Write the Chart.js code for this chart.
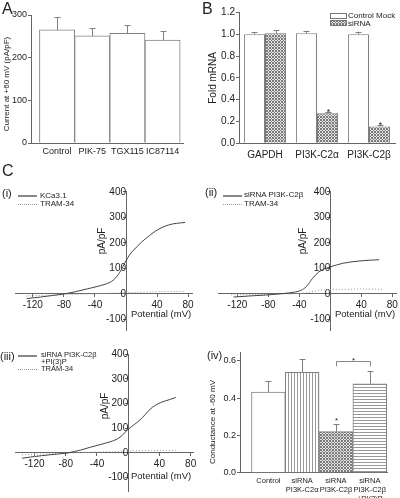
<!DOCTYPE html>
<html lang="en">
<head>
<meta charset="UTF-8" />
<title>KCa3.1 / PI3K-C2beta figure</title>
<script src="https://cdn.jsdelivr.net/npm/chart.js"></script>
<style>
  body { margin: 0; background: #fff; }
  #wrap { position: relative; width: 400px; height: 498px; overflow: hidden;
          font-family: "Liberation Sans", Arial, sans-serif; color: #222; }
  #wrap canvas { position: absolute; left: 0; top: 0; }
  .lbl { position: absolute; line-height: 1; white-space: nowrap; }
  .ln { position: absolute; height: 0; }
  .box { position: absolute; box-sizing: border-box; border: 1px solid #777; }
</style>
</head>
<body>
<div id="wrap">
  <canvas id="chartA" width="400" height="498"></canvas>
  <canvas id="chartB" width="400" height="498"></canvas>
  <canvas id="chartC1" width="400" height="498"></canvas>
  <canvas id="chartC2" width="400" height="498"></canvas>
  <canvas id="chartC3" width="400" height="498"></canvas>
  <canvas id="chartC4" width="400" height="498"></canvas>
</div>
<script>
  // ---- A: current at +60 mV
  const aLabels = ["Control", "PIK-75", "TGX115", "IC87114"];
  const aCurrent = [265, 251, 257, 241];
  const aErr = [30, 18, 20, 21];
  const aTicks = [0, 100, 200, 300];

  // ---- B: fold mRNA
  const bLabels = ["GAPDH", "PI3K-C2α", "PI3K-C2β"];
  const bMock = [1.0, 1.01, 1.0];
  const bMockErr = [0.018, 0.024, 0.02];
  const bSirna = [1.01, 0.275, 0.155];
  const bSirnaErr = [0.025, 0.012, 0.01];
  const bStars = [false, true, true];
  const bTicks = [0, 0.2, 0.4, 0.6, 0.8, 1.0, 1.2];

  // ---- C: I-V ramps (mV, pA/pF)
  const ivTicksX = [-120, -80, -40, 40, 80];
  const ivTicksY = [-100, 0, 100, 200, 300, 400];

  const c1V = [-128, -110, -95, -80, -65, -50, -35, -22, -15, -8, 0, 5, 10, 20, 30, 40, 50, 60, 70, 76];
  const c1Kca = [-18, -12, -6, 0, 9, 20, 31, 44, 58, 85, 130, 155, 172, 203, 228, 250, 265, 274, 278, 280];
  const c1TramV = [-128, -100, -80, -60, -40, -20, 0, 20, 40, 60, 76];
  const c1Tram = [-8, -5, -3, -1, 1, 3, 5, 7, 9, 10, 10];

  const c2V = [-125, -100, -82, -60, -45, -38, -31, -23, -15, -8, 0, 16, 37, 50, 63];
  const c2Si = [-12, -7, -4, 2, 8, 14, 29, 61, 86, 98, 106, 120, 129, 132, 134];
  const c2TramV = [-128, -90, -60, -40, -30, -22, -12, 0, 20, 40, 55, 68];
  const c2Tram = [-3, -2, 0, 2, 5, 10, 15, 18, 18, 20, 19, 18];

  const c3V = [-136, -120, -100, -77, -60, -48, -35, -23, -14, -7, 0, 8, 15, 22, 28, 35, 41, 48, 54, 61];
  const c3Si = [-22, -15, -8, 0, 12, 23, 34, 45, 56, 73, 96, 115, 133, 156, 177, 193, 203, 211, 217, 225];
  const c3TramV = [-136, -100, -77, -50, -20, 0, 30, 61];
  const c3Tram = [-8, -4, -1, 2, 5, 8, 9, 10];

  // ---- C(iv): conductance at -60 mV
  const dLabels = ["Control", ["siRNA", "PI3K-C2α"], ["siRNA", "PI3K-C2β"], ["siRNA", "PI3K-C2β", "+PI(3)P"]];
  const dCond = [0.432, 0.538, 0.22, 0.477];
  const dErr = [0.061, 0.073, 0.042, 0.07];
  const dStars = [false, false, true, false];
  const dBracket = [2, 3];
  const dTicks = [0, 0.2, 0.4, 0.6];

  Chart.defaults.font.family = '"Liberation Sans", Arial, sans-serif';
  Chart.defaults.color = "#222";
  Chart.defaults.animation = false;
  Chart.defaults.plugins.legend.display = false;
  Chart.defaults.plugins.tooltip.enabled = false;

  const axisGray = "#666";

  function tile(kind) {
    const c = document.createElement("canvas");
    const g = c.getContext("2d");
    if (kind === "cross") {
      c.width = c.height = 3;
      g.fillStyle = "#e4e4e4";
      g.fillRect(0, 0, 3, 3);
      g.fillStyle = "#7a7a7a";
      [[0, 0], [1, 1], [2, 2], [2, 0], [0, 2]].forEach((p) => g.fillRect(p[0], p[1], 1, 1));
    } else if (kind === "vert") {
      c.width = 3; c.height = 1;
      g.fillStyle = "#fff"; g.fillRect(0, 0, 3, 1);
      g.fillStyle = "#999"; g.fillRect(0, 0, 1, 1);
    } else {
      c.width = 1; c.height = 3;
      g.fillStyle = "#fff"; g.fillRect(0, 0, 1, 3);
      g.fillStyle = "#999"; g.fillRect(0, 0, 1, 1);
    }
    return c;
  }
  const pctx = document.createElement("canvas").getContext("2d");
  const crossTile = tile("cross");
  const crossFill = pctx.createPattern(crossTile, "repeat");
  const vertFill = pctx.createPattern(tile("vert"), "repeat");
  const horizFill = pctx.createPattern(tile("horiz"), "repeat");

  // error bars (+ asterisks, bracket) drawn through the chart scales
  const errorBars = {
    id: "errorBars",
    afterDatasetsDraw(chart, args, opts) {
      const ctx = chart.ctx;
      const ys = chart.scales.y;
      ctx.save();
      ctx.strokeStyle = opts.color || "#808080";
      ctx.fillStyle = "#222";
      ctx.lineWidth = 1;
      chart.data.datasets.forEach((ds, i) => {
        if (!ds.errors) return;
        const meta = chart.getDatasetMeta(i);
        meta.data.forEach((bar, j) => {
          const v = meta.controller.getParsed(j).y;
          const top = Math.round(ys.getPixelForValue(v + ds.errors[j])) + 0.5;
          const x = Math.round(bar.x) + 0.5;
          ctx.beginPath();
          ctx.moveTo(x, bar.y);
          ctx.lineTo(x, top);
          ctx.moveTo(x - 3, top);
          ctx.lineTo(x + 3, top);
          ctx.stroke();
          if (ds.stars && ds.stars[j]) {
            ctx.font = (opts.starSize || 9) + 'px "Liberation Sans", Arial';
            ctx.textAlign = "center";
            ctx.fillText("*", x, top + (opts.starDrop || 1));
          }
        });
      });
      const br = opts.bracket;
      if (br) {
        const meta = chart.getDatasetMeta(0);
        const x1 = Math.round(meta.data[br.from].x) + 0.5;
        const x2 = Math.round(meta.data[br.to].x) + 0.5;
        const yl = Math.round(ys.getPixelForValue(br.level)) + 0.5;
        const yd = ys.getPixelForValue(br.level - br.drop);
        ctx.strokeStyle = "#888";
        ctx.beginPath();
        ctx.moveTo(x1, yd);
        ctx.lineTo(x1, yl);
        ctx.lineTo(x2, yl);
        ctx.lineTo(x2, yd);
        ctx.stroke();
        ctx.font = '8px "Liberation Sans", Arial';
        ctx.textAlign = "center";
        ctx.fillText("*", (x1 + x2) / 2, yl + 1);
      }
      ctx.restore();
    },
  };

  const setTicks = (arr) => (s) => { s.ticks = arr.map((v) => ({ value: v })); };

  // ---------- A
  new Chart(document.getElementById("chartA"), {
    type: "bar",
    data: {
      datasets: [{
        data: aCurrent.map((v, i) => ({ x: i, y: v })),
        errors: aErr,
        backgroundColor: "#fff",
        borderColor: "#808080",
        borderWidth: 1,
        barPercentage: 1,
        categoryPercentage: 1,
      }],
    },
    options: {
      responsive: false,
      layout: { padding: { left: 0, top: 15, right: 217, bottom: 498 - 143 - 22 } },
      scales: {
        x: {
          type: "linear", min: -0.74, max: 3.58, offset: false,
          grid: { display: false, drawTicks: false },
          border: { color: axisGray },
          afterBuildTicks: setTicks(aLabels.map((_, i) => i)),
          ticks: { autoSkip: false, maxRotation: 0, padding: 3, font: { size: 9 }, callback: (v) => aLabels[v] },
          afterFit: (s) => { s.height = 22; },
        },
        y: {
          min: 0, max: 300,
          afterBuildTicks: setTicks(aTicks),
          grid: { drawOnChartArea: false, tickLength: 3, color: axisGray },
          border: { color: axisGray },
          ticks: { padding: 1, font: { size: 9 } },
          afterFit: (s) => { s.width = 31; },
        },
      },
      plugins: { errorBars: {} },
    },
    plugins: [errorBars],
  });

  // ---------- B
  new Chart(document.getElementById("chartB"), {
    type: "bar",
    data: {
      labels: bLabels,
      datasets: [
        { label: "Control Mock", data: bMock, errors: bMockErr, backgroundColor: "#fff", borderColor: "#808080", borderWidth: 1 },
        { label: "siRNA", data: bSirna, errors: bSirnaErr, stars: bStars, backgroundColor: crossFill, borderColor: "#777", borderWidth: 1 },
      ],
    },
    options: {
      responsive: false,
      datasets: { bar: { barPercentage: 1, categoryPercentage: 0.81 } },
      layout: { padding: { left: 200, top: 12.5, right: 5, bottom: 498 - 143.3 - 24 } },
      scales: {
        x: {
          grid: { display: false, drawTicks: false },
          border: { color: axisGray },
          ticks: { padding: 6, font: { size: 10 } },
          afterFit: (s) => { s.height = 24; },
        },
        y: {
          min: 0, max: 1.2,
          afterBuildTicks: setTicks(bTicks),
          grid: { drawOnChartArea: false, tickLength: 3, color: axisGray },
          border: { color: axisGray },
          ticks: { padding: 1, font: { size: 10 }, callback: (v) => v.toFixed(1) },
          title: { display: true, text: "Fold mRNA", font: { size: 10 }, padding: { top: 7, bottom: 0 } },
          afterFit: (s) => { s.width = 39; },
        },
      },
      plugins: { errorBars: { starSize: 9, starDrop: 2 } },
    },
    plugins: [errorBars],
  });

  // ---------- C (i)-(iii) I-V curves
  function ivChart(id, pad, xMin, xMax, yMin, yMax, sets) {
    return new Chart(document.getElementById(id), {
      type: "line",
      data: {
        datasets: sets.map((s) => ({
          data: s.v.map((v, i) => ({ x: v, y: s.i[i] })),
          borderColor: s.dotted ? "#999" : "#444",
          borderWidth: 1,
          borderDash: s.dotted ? [1, 2] : [],
          pointRadius: 0,
          cubicInterpolationMode: "monotone",
        })),
      },
      options: {
        responsive: false,
        layout: { padding: pad },
        scales: {
          x: {
            type: "linear", position: { y: 0 }, min: xMin, max: xMax,
            afterBuildTicks: setTicks(ivTicksX),
            grid: { drawOnChartArea: false, tickLength: 3, color: axisGray },
            border: { color: axisGray },
            ticks: { autoSkip: false, maxRotation: 0, padding: 2, font: { size: 10 } },
          },
          y: {
            type: "linear", position: { x: 0 }, min: yMin, max: yMax,
            afterBuildTicks: setTicks(ivTicksY),
            grid: { drawOnChartArea: false, tickLength: 3, color: axisGray },
            border: { color: axisGray },
            ticks: { padding: 1, font: { size: 10 } },
          },
        },
      },
    });
  }

  ivChart("chartC1", { left: 15, top: 191, right: 208, bottom: 168 }, -143, 85, -141, 403, [
    { v: c1V, i: c1Kca }, { v: c1TramV, i: c1Tram, dotted: true },
  ]);
  ivChart("chartC2", { left: 218, top: 191, right: 3, bottom: 168 }, -145, 85, -141, 403, [
    { v: c2V, i: c2Si }, { v: c2TramV, i: c2Tram, dotted: true },
  ]);
  ivChart("chartC3", { left: 15, top: 354, right: 207, bottom: 0 }, -145, 83, -155, 401, [
    { v: c3V, i: c3Si }, { v: c3TramV, i: c3Tram, dotted: true },
  ]);

  // ---------- C (iv)
  new Chart(document.getElementById("chartC4"), {
    type: "bar",
    data: {
      datasets: [{
        data: dCond.map((v, i) => ({ x: i, y: v })),
        errors: dErr,
        stars: dStars,
        backgroundColor: ["#fff", vertFill, crossFill, horizFill],
        borderColor: "#808080",
        borderWidth: 1,
        barPercentage: 1,
        categoryPercentage: 1,
      }],
    },
    options: {
      responsive: false,
      layout: { padding: { left: 200, top: 352, right: 13, bottom: 0 } },
      scales: {
        x: {
          type: "linear", min: -0.84, max: 3.51, offset: false,
          grid: { display: false, drawTicks: false },
          border: { color: axisGray },
          afterBuildTicks: setTicks(dLabels.map((_, i) => i)),
          ticks: { autoSkip: false, maxRotation: 0, padding: 4, font: { size: 7.5, lineHeight: 1.2 }, callback: (v) => dLabels[v] },
          afterFit: (s) => { s.height = 25.3; },
        },
        y: {
          min: 0, max: 0.647,
          afterBuildTicks: setTicks(dTicks),
          grid: { drawOnChartArea: false, tickLength: 3, color: axisGray },
          border: { color: axisGray },
          ticks: { padding: 1, font: { size: 9 }, callback: (v) => v.toFixed(1) },
          afterFit: (s) => { s.width = 40; },
        },
      },
      plugins: { errorBars: { starSize: 8, starDrop: -2, bracket: { from: dBracket[0], to: dBracket[1], level: 0.597, drop: 0.027 } } },
    },
    plugins: [errorBars],
  });

  // ---------- overlay text, legends
  const wrap = document.getElementById("wrap");
  function label(text, x, y, size, rotated) {
    const d = document.createElement("div");
    d.className = "lbl";
    d.textContent = text;
    d.style.fontSize = size + "px";
    d.style.left = x + "px";
    d.style.top = y + "px";
    d.style.transform = rotated ? "translate(-50%,-50%) rotate(-90deg)" : "translateY(-50%)";
    wrap.appendChild(d);
  }
  function line(x1, x2, y, style) {
    const d = document.createElement("div");
    d.className = "ln";
    d.style.left = x1 + "px";
    d.style.width = x2 - x1 + "px";
    d.style.top = y + "px";
    d.style.borderTop = style;
    wrap.appendChild(d);
  }
  function box(x, y, w, h, bg) {
    const d = document.createElement("div");
    d.className = "box";
    Object.assign(d.style, { left: x + "px", top: y + "px", width: w + "px", height: h + "px", background: bg });
    wrap.appendChild(d);
  }

  label("A", 2, 9, 16);
  label("B", 202, 9, 16);
  label("C", 2, 171, 16);
  label("(i)", 2, 193, 11);
  label("(ii)", 205, 192, 11);
  label("(iii)", 0, 356, 11);
  label("(iv)", 207, 355, 11);

  label("Current at +60 mV (pA/pF)", 7, 84, 8, true);
  label("Conductance at -60 mV", 213, 422, 8, true);
  label("pA/pF", 102, 241, 10, true);
  label("pA/pF", 302.5, 241, 10, true);
  label("pA/pF", 105, 406, 10, true);
  label("Potential (mV)", 131, 314, 9.5);
  label("Potential (mV)", 335, 314, 9.5);
  label("Potential (mV)", 131, 476, 9.5);

  // legend B
  box(330, 12.5, 17, 6, "#fff");
  box(330, 20, 17, 6, "url(" + crossTile.toDataURL() + ")");
  label("Control Mock", 348, 15.5, 8);
  label("siRNA", 348, 23.5, 8);

  // legends C
  const solid = "2px solid #888";
  const dotted = "1px dotted #999";
  line(18, 37, 195, solid); label("KCa3.1", 40, 195.5, 8);
  line(18, 37, 204, dotted); label("TRAM-34", 40, 204, 8);
  line(223, 242, 194.5, solid); label("siRNA PI3K-C2β", 244, 195, 8);
  line(223, 242, 204, dotted); label("TRAM-34", 244, 204, 8);
  line(18, 37, 354.5, solid); label("siRNA PI3K-C2β", 41, 355, 7.5);
  label("+PI(3)P", 41, 362.3, 7.5);
  line(18, 37, 369, dotted); label("TRAM-34", 41, 369.3, 7.5);
</script>
</body>
</html>
